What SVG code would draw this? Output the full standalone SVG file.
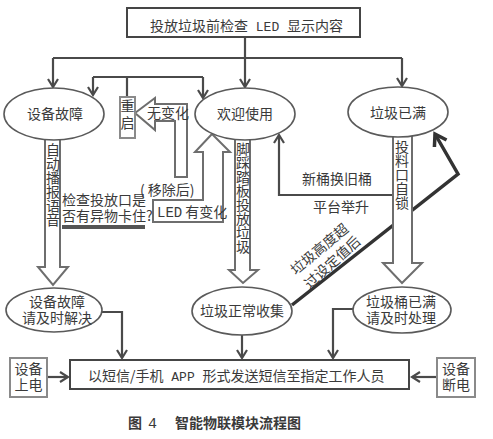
<svg xmlns="http://www.w3.org/2000/svg" width="493" height="439" viewBox="0 0 493 439">
<style>
  .t { font-family: "Noto Sans CJK SC", "Noto Sans", sans-serif; fill: #3a3a3a; font-size: 14px; }
  .v { writing-mode: vertical-rl; text-orientation: upright; }
  .m { font-family: "Liberation Mono", monospace; }
  .box { fill: #fff; stroke: #454545; stroke-width: 2; }
  .sbox { fill: #fff; stroke: #8a8a8a; stroke-width: 2; }
  .ell { fill: #fff; stroke: #5a5a5a; stroke-width: 1.6; }
  .blk { fill: #fff; stroke: #6e6e6e; stroke-width: 2; stroke-linejoin: miter; }
  .ln { fill: none; stroke: #4a4a4a; stroke-width: 2.2; }
  .thick { fill: none; stroke: #333; stroke-width: 3.5; }
</style>
<defs>
  <marker id="ah" markerWidth="12" markerHeight="12" refX="10" refY="6" orient="auto" markerUnits="userSpaceOnUse">
    <path d="M2,1 L10,6 L2,11" fill="none" stroke="#4a4a4a" stroke-width="2.2"/>
  </marker>
  <marker id="ahb" markerWidth="18" markerHeight="18" refX="14" refY="9" orient="auto" markerUnits="userSpaceOnUse">
    <path d="M3,2 L14,9 L3,16" fill="none" stroke="#333" stroke-width="3.5"/>
  </marker>
</defs>

<g id="connectors">
  <path class="ln" d="M245,37 V58"/>
  <path class="ln" d="M53,58 H402"/>
  <path class="ln" d="M53,58 V87" marker-end="url(#ah)"/>
  <path class="ln" d="M245,58 V87" marker-end="url(#ah)"/>
  <path class="ln" d="M402,58 V86" marker-end="url(#ah)"/>
  <path class="ln" d="M127,97 V77"/>
  <path class="ln" d="M93,77 H203"/>
  <path class="ln" d="M93,77 V95" marker-end="url(#ah)"/>
  <path class="ln" d="M203,77 V98" marker-end="url(#ah)"/>
  <path class="ln" d="M393,195 H279 V135" marker-end="url(#ah)"/>
  <path class="thick" d="M292,305 L458,174 L435,134" marker-end="url(#ahb)"/>
  <path class="ln" d="M101,312 H122 V358" marker-end="url(#ah)"/>
  <path class="ln" d="M242,335 V358" marker-end="url(#ah)"/>
  <path class="ln" d="M354,309 H333 V358" marker-end="url(#ah)"/>
  <path class="ln" d="M47,377 H68" marker-end="url(#ah)"/>
  <path class="ln" d="M437,377 H412" marker-end="url(#ah)"/>
</g>

<g id="arrow-voice">
  <path class="blk" d="M45,138 V267 H38 L53,285 L68,267 H60 V138"/>
  <text class="t v" x="53" y="143" font-size="13.5">自动播报语音</text>
</g>
<g id="arrow-pedal">
  <path class="blk" d="M235,137 V270 H229 L243,283 L258,270 H250 V137"/>
  <text class="t v" x="243" y="142" font-size="13.7">脚踩踏板投放垃圾</text>
</g>
<g id="arrow-lock">
  <path class="blk" d="M393,136 V263 H383 L402,283 L422,263 H412 V136"/>
  <text class="t v" x="402" y="140" font-size="14">投料口自锁</text>
</g>
<g id="arrow-nochange">
  <path class="blk" d="M135,113 L155,98 V104 H187 V177 H175 V121 H155 V130 Z"/>
  <text class="t" x="147" y="118" font-size="13">无变化</text>
</g>
<g id="arrow-ledchange">
  <path class="blk" d="M212,134 L230,152 H223 V222 H153 V200 H203 V152 H195 Z"/>
  <text class="t" x="157" y="217" font-size="13"><tspan class="m">LED</tspan> 有变化</text>
</g>

<g id="top-box">
  <rect class="box" x="127" y="8" width="233" height="29"/>
  <text class="t" x="150" y="31" font-size="13.5">投放垃圾前检查<tspan class="m" font-size="13"> LED </tspan>显示内容</text>
</g>

<g id="restart">
  <rect class="sbox" x="120" y="97" width="15" height="41" stroke-width="1.6"/>
  <text class="t v" x="127.5" y="99" font-size="13" letter-spacing="3">重启</text>
</g>

<g id="fault">
  <ellipse class="ell" cx="54" cy="114" rx="50" ry="26"/>
  <text class="t" x="55" y="119" text-anchor="middle">设备故障</text>
</g>
<g id="welcome">
  <ellipse class="ell" cx="245" cy="114" rx="50" ry="26"/>
  <text class="t" x="245" y="119" text-anchor="middle">欢迎使用</text>
</g>
<g id="full">
  <ellipse class="ell" cx="398" cy="112" rx="50" ry="25"/>
  <text class="t" x="398" y="118" text-anchor="middle">垃圾已满</text>
</g>

<g id="labels">
  <text class="t" x="62" y="205" font-size="13.6">检查投放口是</text>
  <text class="t" x="62" y="221" font-size="13.6">否有异物卡住?</text>
  <rect x="62" y="225" width="83" height="4" fill="#555"/>
  <text class="t" x="140" y="195" font-size="13">( 移除后)</text>
  <text class="t" x="302" y="184" font-size="13.6">新桶换旧桶</text>
  <text class="t" x="313" y="212" font-size="13.6">平台举升</text>
  <text class="t" font-size="12.5" text-anchor="middle" transform="translate(320,250) rotate(-40)" x="0" y="4">垃圾高度超</text>
  <text class="t" font-size="12.5" text-anchor="middle" transform="translate(333,263) rotate(-42)" x="0" y="4">过设定值后</text>
</g>

<g id="fault-solve">
  <ellipse class="ell" cx="54" cy="310" rx="48" ry="22"/>
  <text class="t" text-anchor="middle" font-size="13.5"><tspan x="57" y="307">设备故障</tspan><tspan x="57" y="323">请及时解决</tspan></text>
</g>
<g id="normal">
  <ellipse class="ell" cx="242" cy="311" rx="50" ry="24"/>
  <text class="t" x="242" y="316" text-anchor="middle">垃圾正常收集</text>
</g>
<g id="full-handle">
  <ellipse class="ell" cx="402" cy="310" rx="49" ry="23"/>
  <text class="t" text-anchor="middle" font-size="13.5"><tspan x="401" y="307">垃圾桶已满</tspan><tspan x="401" y="323">请及时处理</tspan></text>
</g>

<g id="power-on">
  <rect class="sbox" x="10" y="358" width="37" height="39"/>
  <text class="t" text-anchor="middle" font-size="13.5"><tspan x="28.5" y="374">设备</tspan><tspan x="28.5" y="390">上电</tspan></text>
</g>
<g id="message">
  <rect class="box" x="70" y="360" width="339" height="29"/>
  <text class="t" x="88" y="381">以短信/手机<tspan class="m" font-size="13"> APP </tspan>形式发送短信至指定工作人员</text>
</g>
<g id="power-off">
  <rect class="sbox" x="437" y="358" width="38" height="39"/>
  <text class="t" text-anchor="middle" font-size="13.5"><tspan x="456" y="374">设备</tspan><tspan x="456" y="390">断电</tspan></text>
</g>

<text class="t" y="428" font-size="17" font-weight="bold" fill="#222"><tspan x="128">图</tspan><tspan x="148" class="m" font-size="15" font-weight="normal">4</tspan><tspan x="175">智能物联模块流程图</tspan></text>
</svg>
